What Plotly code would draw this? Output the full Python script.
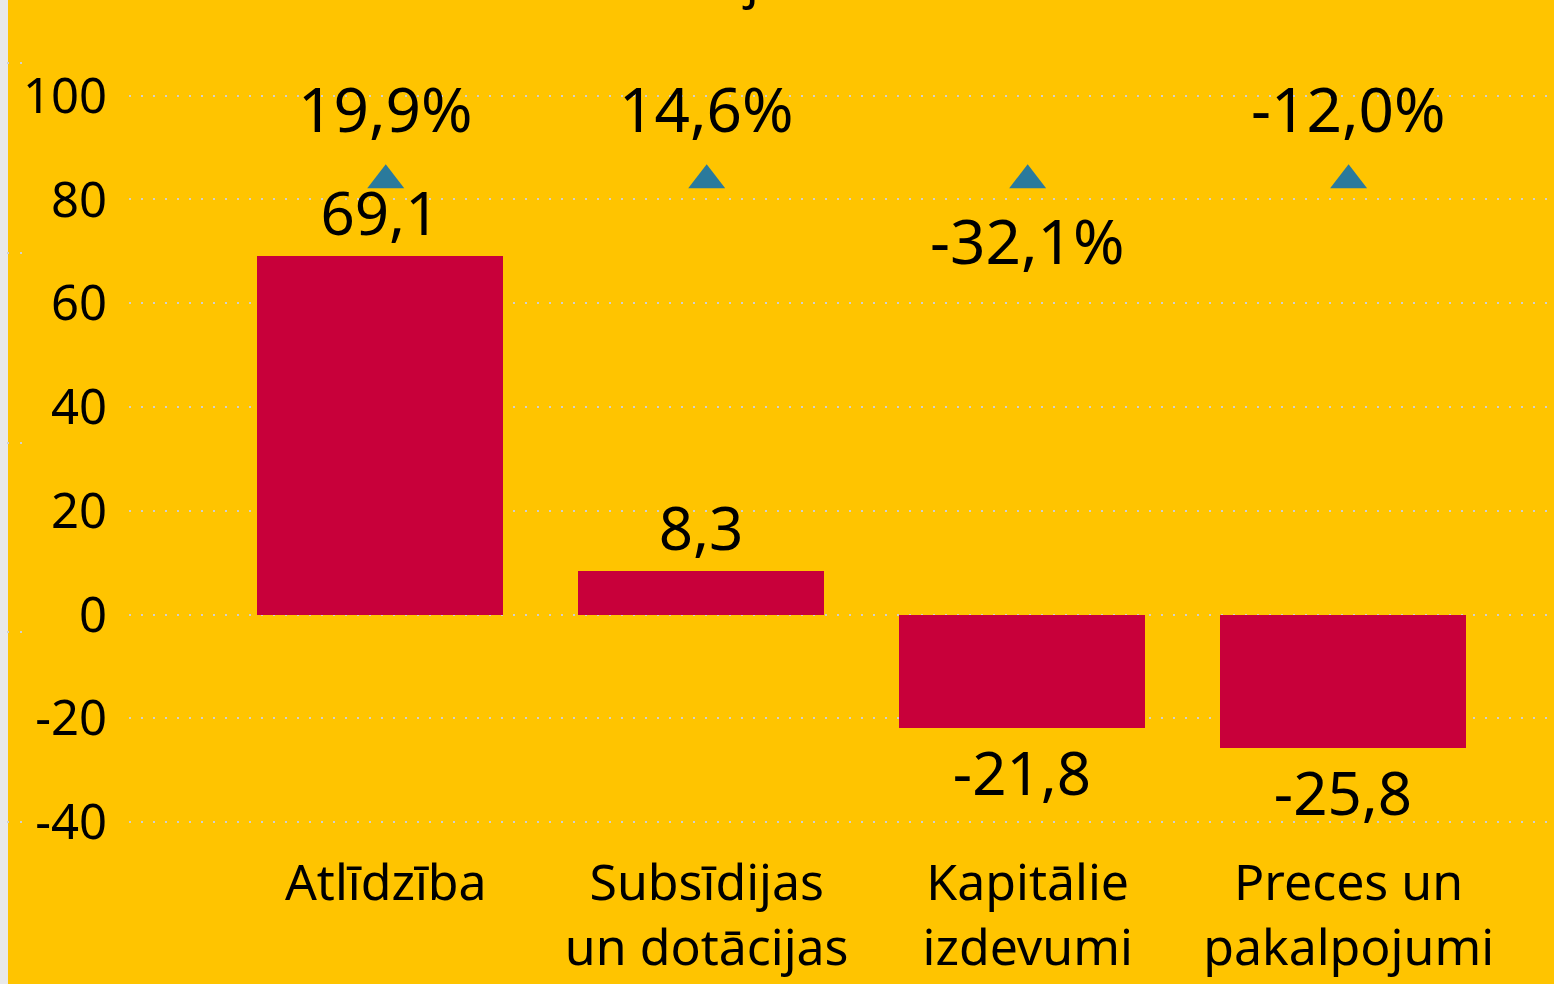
import plotly.graph_objects as go

categories = ["Atlīdzība", "Subsīdijas<br>un dotācijas", "Kapitālie<br>izdevumi", "Preces un<br>pakalpojumi"]
values = [69.1, 8.3, -21.8, -25.8]
pct_change = [19.9, 14.6, -32.1, -12.0]
marker_level = [83.7, 83.7, 83.7, 83.7]
pct_label_above = [True, True, False, True]
y_ticks = [-40, -20, 0, 20, 40, 60, 80, 100]
y_ticktext = ["-40", "-20", "0", "20", "40", "60", "80", "100"]

FONT = "Noto Sans"
YELLOW = "#FFC400"
RED = "#C8003A"
BLUE = "#2A7A9C"

def fmt(v, suffix=""):
    return f"{v:.1f}".replace(".", ",") + suffix

x_idx = list(range(len(categories)))

fig = go.Figure()
fig.add_trace(go.Bar(
    x=x_idx, y=values, width=0.765, offset=-0.40,
    marker=dict(color=RED, line=dict(width=0)),
    text=[fmt(v) for v in values], textposition="outside",
    textfont=dict(family=FONT, size=60, color="black"),
    cliponaxis=False, showlegend=False,
))
fig.add_trace(go.Scatter(
    x=x_idx, y=marker_level, mode="markers",
    marker=dict(symbol="triangle-up", size=32, color=BLUE),
    cliponaxis=False, showlegend=False, hoverinfo="skip",
))

annotations = []
for i, (p, lvl, above) in enumerate(zip(pct_change, marker_level, pct_label_above)):
    annotations.append(dict(
        text=fmt(p, "%"), x=i, y=lvl, xref="x", yref="y",
        xanchor="center", yanchor="middle", showarrow=False,
        yshift=72 if above else -60,
        font=dict(family=FONT, size=62, color="black"),
    ))
annotations.append(dict(text="milj. euro", xref="paper", yref="paper", x=(785 - 129) / 1425, y=1.0,
                        xanchor="center", yanchor="bottom", yshift=-14, showarrow=False,
                        font=dict(family=FONT, size=52, color="black")))

shapes = [dict(type="rect", xref="paper", yref="paper", x0=(8 - 129) / 1425, x1=1.0,
               y0=-0.2, y1=1.0, fillcolor=YELLOW, line=dict(width=0), layer="below")]
# small dotted stubs of the secondary grid at the left edge
for ypix in [63, 253, 443, 632, 822]:
    yv = 118.44 - ypix / 5.189
    shapes.append(dict(type="line", xref="paper", yref="y", x0=(7 - 129) / 1425, x1=(23 - 129) / 1425,
                       y0=yv, y1=yv, line=dict(color="#CFCFCF", width=2, dash="2px,11px"), layer="below"))

fig.update_layout(
    width=1554, height=984,
    margin=dict(l=129, r=0, t=0, b=144),
    paper_bgcolor="#E9E9E9", plot_bgcolor="rgba(0,0,0,0)",
    font=dict(family=FONT, color="black"),
    shapes=shapes, annotations=annotations,
    bargap=0,
    xaxis=dict(range=[-0.80, 3.64], tickvals=x_idx, ticktext=categories,
               showgrid=False, zeroline=False, showline=False, fixedrange=True,
               tickfont=dict(family=FONT, size=50, color="black"),
               ticklabelstandoff=9),
    yaxis=dict(range=[-43.45, 118.44], tickvals=y_ticks, ticktext=y_ticktext,
               showgrid=True, gridcolor="#CFCFCF", gridwidth=2, griddash="2px,10px",
               zeroline=False, showline=False, fixedrange=True,
               tickfont=dict(family=FONT, size=49, color="black"),
               ticklabelstandoff=21),
)

fig.write_html("out.html", config={"displayModeBar": False},
               post_script="document.body.style.margin='0';")
